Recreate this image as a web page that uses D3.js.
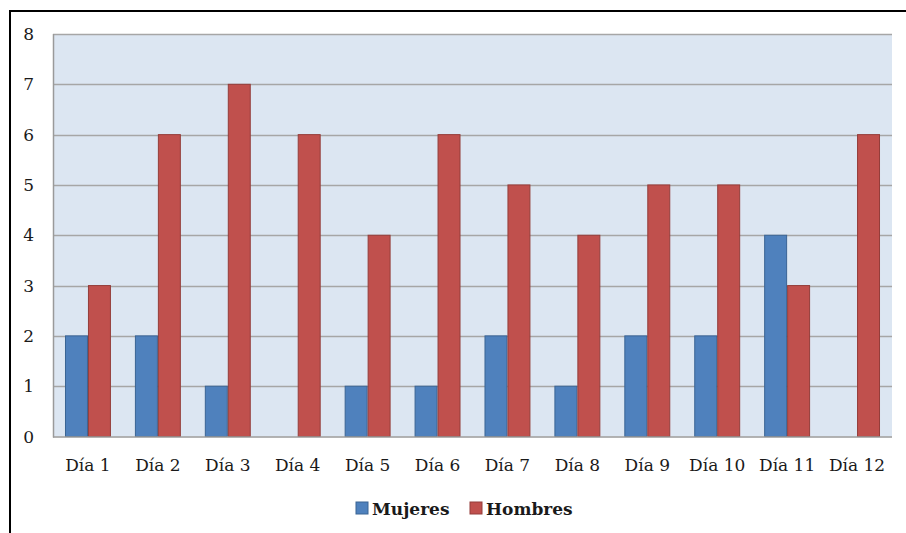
<!DOCTYPE html>
<html>
<head>
<meta charset="utf-8">
<script src="https://cdn.jsdelivr.net/npm/d3@7"></script>
<style>
  body { margin: 0; background: #fff; }
  svg text { font-family: "DejaVu Serif", "Liberation Serif", serif; fill: #1a1a1a; }
</style>
</head>
<body>
<script>
'use strict';

const days = ["Día 1", "Día 2", "Día 3", "Día 4", "Día 5", "Día 6",
  "Día 7", "Día 8", "Día 9", "Día 10", "Día 11", "Día 12"];
const mujeres = [2, 2, 1, 0, 1, 1, 2, 1, 2, 2, 4, 0];
const hombres = [3, 6, 7, 6, 4, 6, 5, 4, 5, 5, 3, 6];
const seriesNames = ["Mujeres", "Hombres"];
const yTicks = [0, 1, 2, 3, 4, 5, 6, 7, 8];

const colors = { "Mujeres": "#4f81bd", "Hombres": "#c0504d" };
const strokes = { "Mujeres": "#3a6494", "Hombres": "#943d3a" };

const m = { width: 906, height: 533, left: 53, right: 892, top: 34, bottom: 436.5 };

const svg = d3.select('body')
  .append('svg')
  .attr('width', m.width)
  .attr('height', m.height);

// outer frame (only top and left edges are inside the picture)
svg.append('rect')
  .attr('x', 10).attr('y', 11)
  .attr('width', 1000).attr('height', 1000)
  .attr('fill', 'none')
  .attr('stroke', '#000')
  .attr('stroke-width', 2);

// scales
const x0 = d3.scaleBand()
  .domain(days)
  .range([m.left, m.right])
  .paddingInner(0.343)
  .paddingOuter(0.1715);

const x1 = d3.scaleBand()
  .domain(seriesNames)
  .range([0, x0.bandwidth()]);

const y = d3.scaleLinear()
  .domain([0, 8])
  .range([m.bottom, m.top]);

// plot background
svg.append('rect')
  .attr('x', m.left).attr('y', m.top)
  .attr('width', m.right - m.left).attr('height', m.bottom - m.top)
  .attr('fill', '#dce6f2');

// gridlines
svg.append('g')
  .selectAll('line')
  .data(yTicks.filter(d => d > 0))
  .enter()
  .append('line')
  .attr('x1', m.left).attr('x2', m.right)
  .attr('y1', d => Math.round(y(d)) + 0.5)
  .attr('y2', d => Math.round(y(d)) + 0.5)
  .attr('stroke', '#a6a6a6')
  .attr('stroke-width', 1.3);

// bars
const rows = days.map((d, i) => ({ day: d, Mujeres: mujeres[i], Hombres: hombres[i] }));

svg.append('g')
  .selectAll('g')
  .data(rows)
  .enter()
  .append('g')
  .attr('transform', d => 'translate(' + x0(d.day) + ',0)')
  .selectAll('rect')
  .data(d => seriesNames.map(s => ({ key: s, value: d[s] })))
  .enter()
  .filter(d => d.value > 0)
  .append('rect')
  .attr('x', d => x1(d.key) + 0.5)
  .attr('y', d => y(d.value))
  .attr('width', x1.bandwidth() - 1)
  .attr('height', d => y(0) - y(d.value))
  .attr('fill', d => colors[d.key])
  .attr('stroke', d => strokes[d.key])
  .attr('stroke-width', 1);

// axes lines (left and bottom)
svg.append('line')
  .attr('x1', m.left + 0.5).attr('x2', m.left + 0.5)
  .attr('y1', m.top).attr('y2', m.bottom + 1)
  .attr('stroke', '#9a9a9a').attr('stroke-width', 1.5);

svg.append('line')
  .attr('x1', m.left).attr('x2', m.right)
  .attr('y1', m.bottom + 0.5).attr('y2', m.bottom + 0.5)
  .attr('stroke', '#9a9a9a').attr('stroke-width', 1.5);

// y tick labels
svg.append('g')
  .selectAll('text')
  .data(yTicks)
  .enter()
  .append('text')
  .attr('x', 34)
  .attr('y', d => y(d))
  .attr('dy', '0.36em')
  .attr('text-anchor', 'end')
  .style('font-size', '17px')
  .text(d => d);

// x tick labels
svg.append('g')
  .selectAll('text')
  .data(days)
  .enter()
  .append('text')
  .attr('x', d => x0(d) + x0.bandwidth() / 2)
  .attr('y', 471)
  .attr('text-anchor', 'middle')
  .style('font-size', '17px')
  .text(d => d);

// legend
const legendItems = [
  { name: "Mujeres", x: 356 },
  { name: "Hombres", x: 470 }
];

const lg = svg.append('g');
lg.selectAll('rect')
  .data(legendItems)
  .enter()
  .append('rect')
  .attr('x', d => d.x)
  .attr('y', 502)
  .attr('width', 12)
  .attr('height', 12)
  .attr('fill', d => colors[d.name])
  .attr('stroke', d => strokes[d.name]);

lg.selectAll('text')
  .data(legendItems)
  .enter()
  .append('text')
  .attr('x', d => d.x + 16)
  .attr('y', 515)
  .style('font-size', '17px')
  .style('font-weight', 'bold')
  .text(d => d.name);
</script>
</body>
</html>
